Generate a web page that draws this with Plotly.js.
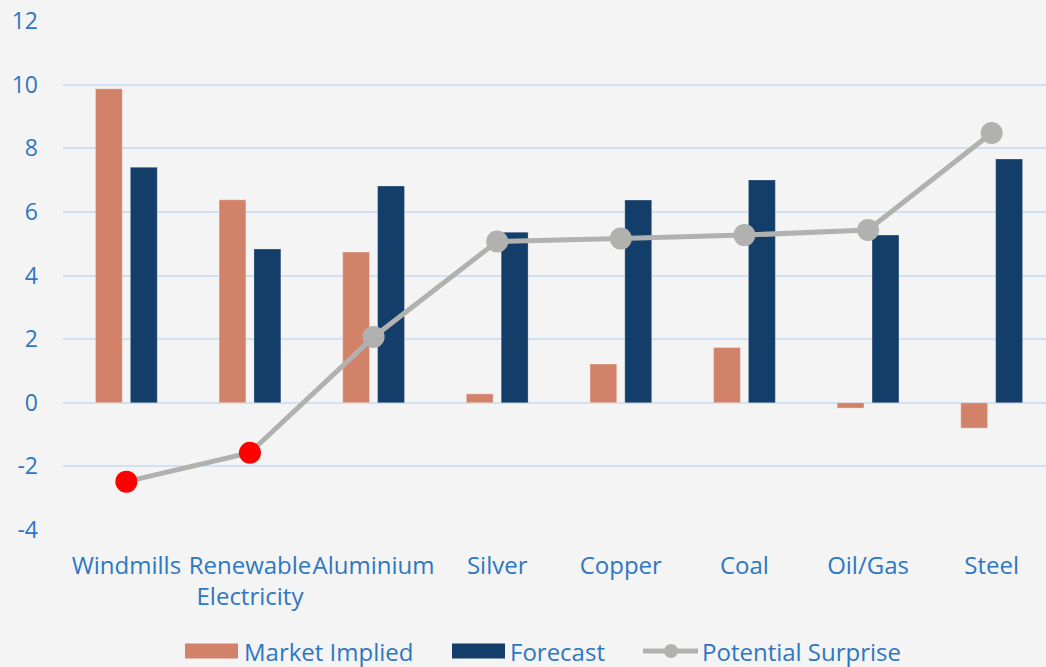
<!DOCTYPE html>
<html>
<head>
<meta charset="utf-8">
<script src="https://cdn.plot.ly/plotly-3.0.1.min.js"></script>
<style>
  html, body { margin: 0; padding: 0; background: #f4f4f4; overflow: hidden; }
  #chart { width: 1055px; height: 667px; }
</style>
</head>
<body>
<div id="chart"></div>
<script>
// Categories and series
const categories = ["Windmills", "Renewable<br>Electricity", "Aluminium", "Silver", "Copper", "Coal", "Oil/Gas", "Steel"];
const marketImplied = [9.87, 6.38, 4.74, 0.28, 1.22, 1.74, -0.17, -0.80];
const forecast = [7.40, 4.83, 6.81, 5.36, 6.37, 7.00, 5.27, 7.66];
const potentialSurprise = [-2.48, -1.57, 2.07, 5.07, 5.16, 5.27, 5.43, 8.48];
const seriesNames = ["Market Implied", "Forecast", "Potential Surprise"];
const yTicks = [-4, -2, 0, 2, 4, 6, 8, 10, 12];

const textColor = "#2e77c2";
const gridColor = "#cfe1f3";
const bgColor = "#f4f4f4";
const orange = "#d3826a";
const navy = "#133e6a";
const gray = "#b1b2b0";

// Negative surprises are highlighted in red
const pointColors = potentialSurprise.map(v => v < 0 ? "#ff0000" : gray);

const W = 1055, H = 667;
const M = { l: 63, r: 0, t: 21, b: 136.6 };
const plotW = W - M.l - M.r, plotH = H - M.t - M.b;
const px = x => (x - M.l) / plotW;
const py = y => (H - M.b - y) / plotH;

const traces = [
  {
    type: "bar", name: seriesNames[0], x: categories, y: marketImplied,
    marker: { color: orange, line: { color: "rgba(255,255,255,0.35)", width: 1 } },
    showlegend: false, hoverinfo: "x+y"
  },
  {
    type: "bar", name: seriesNames[1], x: categories, y: forecast,
    marker: { color: navy, line: { color: "rgba(255,255,255,0.25)", width: 1 } },
    showlegend: false, hoverinfo: "x+y"
  },
  {
    type: "scatter", mode: "lines+markers", name: seriesNames[2], x: categories, y: potentialSurprise,
    line: { color: gray, width: 5 },
    marker: { color: pointColors, size: 22 },
    showlegend: false, hoverinfo: "x+y"
  }
];

// Legend drawn below the plot
const legendY = 651.5;
const shapes = [
  { type: "rect", xref: "paper", yref: "paper", x0: px(185), x1: px(238), y0: py(legendY + 7.5), y1: py(legendY - 7.5),
    fillcolor: orange, line: { width: 0 } },
  { type: "rect", xref: "paper", yref: "paper", x0: px(452), x1: px(505), y0: py(legendY + 7.5), y1: py(legendY - 7.5),
    fillcolor: navy, line: { width: 0 } },
  { type: "line", xref: "paper", yref: "paper", x0: px(643), x1: px(698), y0: py(legendY), y1: py(legendY),
    line: { color: gray, width: 5 } },
  { type: "circle", xref: "paper", yref: "paper", x0: px(664), x1: px(678), y0: py(legendY + 7), y1: py(legendY - 7),
    fillcolor: gray, line: { width: 0 } }
];
const legendFont = { family: "Open Sans, sans-serif", size: 24, color: textColor };
const annotations = [
  { text: seriesNames[0], x: px(242), y: py(legendY) },
  { text: seriesNames[1], x: px(508), y: py(legendY) },
  { text: seriesNames[2], x: px(700), y: py(legendY) }
].map(a => Object.assign(a, { xref: "paper", yref: "paper", xanchor: "left", yanchor: "middle",
  showarrow: false, font: legendFont }));

const layout = {
  width: W, height: H,
  margin: M,
  paper_bgcolor: bgColor, plot_bgcolor: bgColor,
  font: { family: "Open Sans, sans-serif", size: 24, color: textColor },
  barmode: "group", bargap: 0.435, bargroupgap: 0.23,
  showlegend: false,
  xaxis: {
    type: "category", showgrid: false, zeroline: false, showline: false, ticks: "",
    tickangle: 0,
    tickfont: { size: 24, color: textColor }, ticklabelstandoff: 19, automargin: false
  },
  yaxis: {
    range: [-4, 12], tickvals: yTicks, ticktext: yTicks.map(String),
    showgrid: true, gridcolor: gridColor, gridwidth: 2,
    zeroline: true, zerolinecolor: gridColor, zerolinewidth: 2,
    showline: false, ticks: "",
    tickfont: { size: 23, color: textColor }, ticklabelstandoff: 24, automargin: false
  },
  shapes: shapes,
  annotations: annotations
};

Plotly.newPlot("chart", traces, layout, { displayModeBar: false, staticPlot: true });
</script>
</body>
</html>
